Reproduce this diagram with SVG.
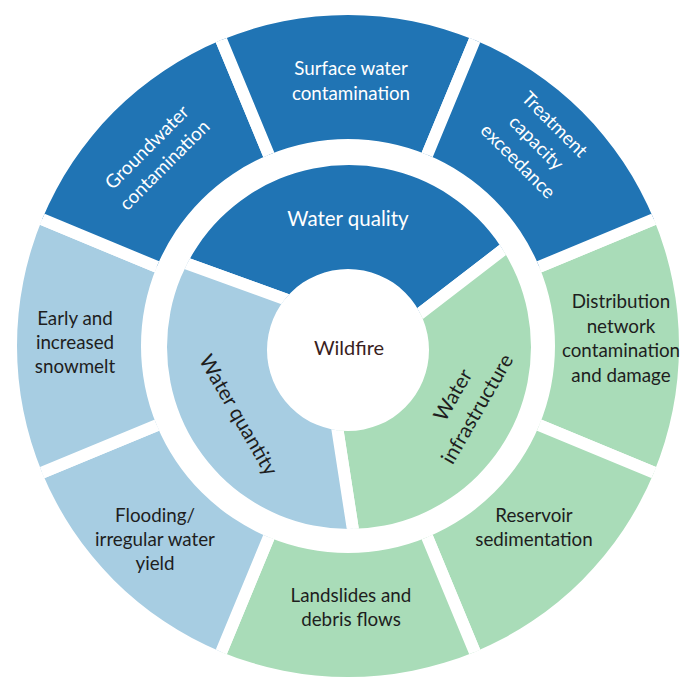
<svg xmlns="http://www.w3.org/2000/svg" width="682" height="679" viewBox="0 0 682 679">
  <defs>
    <clipPath id="outerRing">
      <path clip-rule="evenodd" d="M 17,346 A 331 331 0 1 0 679,346 A 331 331 0 1 0 17,346 Z M 141,346 A 207 207 0 1 0 555,346 A 207 207 0 1 0 141,346 Z"/>
    </clipPath>
    <clipPath id="innerRing">
      <path clip-rule="evenodd" d="M 167,347 A 182 182 0 1 0 531,347 A 182 182 0 1 0 167,347 Z M 267,350 A 81 81 0 1 0 429,350 A 81 81 0 1 0 267,350 Z"/>
    </clipPath>
    <style>
      .seg { stroke: #ffffff; stroke-width: 12; stroke-linejoin: miter; }
      .dark { fill: #2074b4; }
      .lblue { fill: #a7cde2; }
      .green { fill: #a9dcb8; }
      text { font-family: Lato, "Open Sans", "Noto Sans", sans-serif; text-anchor: middle; }
      .tw { fill: #ffffff; font-size: 18.8px; }
      .td { fill: #1e1e1e; font-size: 18.8px; }
      .rw { fill: #ffffff; font-size: 20.5px; }
      .rd { fill: #1e1e1e; font-size: 20.5px; }
      .core { fill: #3a1e1e; font-size: 20px; }
    </style>
  </defs>
  <rect width="682" height="679" fill="#ffffff"/>

  <!-- Outer ring -->
  <g id="distribution-network">
    <path class="seg green" clip-path="url(#outerRing)" d="M 348,346 L 736.03,185.27 L 736.03,506.73 Z"/>
    <text class="td"><tspan x="621" y="308">Distribution</tspan><tspan x="621" y="332.5">network</tspan><tspan x="621" y="357">contamination</tspan><tspan x="621" y="381.5">and damage</tspan></text>
  </g>
  <g id="reservoir-sedimentation">
    <path class="seg green" clip-path="url(#outerRing)" d="M 348,346 L 736.03,506.73 L 508.73,734.03 Z"/>
    <text class="td"><tspan x="534" y="522">Reservoir</tspan><tspan x="534" y="546">sedimentation</tspan></text>
  </g>
  <g id="landslides">
    <path class="seg green" clip-path="url(#outerRing)" d="M 348,346 L 508.73,734.03 L 187.27,734.03 Z"/>
    <text class="td"><tspan x="351" y="602">Landslides and</tspan><tspan x="351" y="626">debris flows</tspan></text>
  </g>
  <g id="flooding">
    <path class="seg lblue" clip-path="url(#outerRing)" d="M 348,346 L 187.27,734.03 L -40.03,506.73 Z"/>
    <text class="td"><tspan x="155" y="522">Flooding/</tspan><tspan x="155" y="546">irregular water</tspan><tspan x="155" y="570">yield</tspan></text>
  </g>
  <g id="early-snowmelt">
    <path class="seg lblue" clip-path="url(#outerRing)" d="M 348,346 L -40.03,506.73 L -40.03,185.27 Z"/>
    <text class="td"><tspan x="75" y="325">Early and</tspan><tspan x="75" y="349">increased</tspan><tspan x="75" y="373">snowmelt</tspan></text>
  </g>
  <g id="groundwater-contamination">
    <path class="seg dark" clip-path="url(#outerRing)" d="M 348,346 L -40.03,185.27 L 187.27,-42.03 Z"/>
    <text class="tw" transform="translate(156,156.5) rotate(-45)"><tspan x="0" y="-6.5">Groundwater</tspan><tspan x="0" y="18.5">contamination</tspan></text>
  </g>
  <g id="surface-water-contamination">
    <path class="seg dark" clip-path="url(#outerRing)" d="M 348,346 L 187.27,-42.03 L 508.73,-42.03 Z"/>
    <text class="tw"><tspan x="351" y="75">Surface water</tspan><tspan x="351" y="100">contamination</tspan></text>
  </g>
  <g id="treatment-capacity">
    <path class="seg dark" clip-path="url(#outerRing)" d="M 348,346 L 508.73,-42.03 L 736.03,185.27 Z"/>
    <text class="tw" transform="translate(536,143) rotate(45)"><tspan x="0" y="-20">Treatment</tspan><tspan x="0" y="6">capacity</tspan><tspan x="0" y="32">exceedance</tspan></text>
  </g>

  <!-- Inner ring -->
  <g id="water-quality">
    <path class="seg dark" clip-path="url(#innerRing)" d="M 389.5,337 L 583.3,188 L 583.3,120 L 94,120 L 94,230 Z"/>
    <text class="rw" x="348" y="226">Water quality</text>
  </g>
  <g id="water-infrastructure">
    <path class="seg green" clip-path="url(#innerRing)" d="M 330.2,382.7 L 583.3,188 L 690,188 L 690,690 L 373.9,665.3 Z"/>
    <text class="rd" transform="translate(465,402) rotate(-60)"><tspan x="0" y="-7">Water</tspan><tspan x="0" y="21">infrastructure</tspan></text>
  </g>
  <g id="water-quantity">
    <path class="seg lblue" clip-path="url(#innerRing)" d="M 319.2,311.6 L 94,230 L 40,230 L 40,690 L 373.9,665.3 Z"/>
    <text class="rd" transform="translate(238.5,415) rotate(60)" x="0" y="7">Water quantity</text>
  </g>

  <!-- Centre -->
  <g id="wildfire">
    <text class="core" x="349" y="355">Wildfire</text>
  </g>
</svg>
